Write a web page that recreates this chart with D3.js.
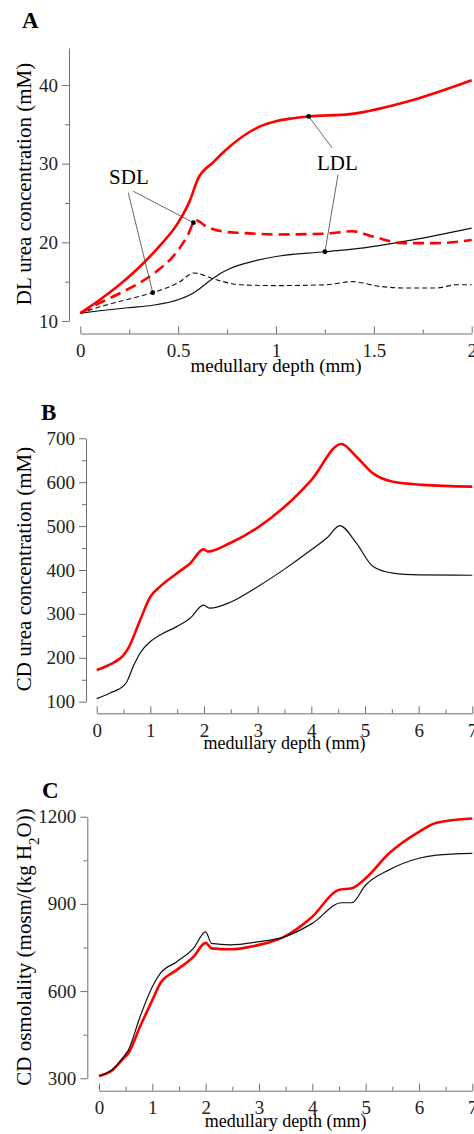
<!DOCTYPE html>
<html>
<head>
<meta charset="utf-8">
<script src="https://cdn.jsdelivr.net/npm/d3@7"></script>
<style>
  body { margin: 0; background: #fff; }
  svg { display: block; font-family: "Liberation Serif", "Times New Roman", serif; }
  .axis path, .axis line { stroke: #707070; stroke-width: 1; }
  .axis text { fill: #222; font-size: 19px; font-family: "Liberation Serif", "Times New Roman", serif; }
</style>
</head>
<body>
<svg width="474" height="1134"></svg>
<script>
// -------------------- DATA --------------------
// Panel A: DL urea concentration (mM) vs medullary depth (mm)
const aLdlRedDepth = [0, 0.1, 0.2, 0.3, 0.4, 0.5, 0.56, 0.6, 0.68, 0.765, 0.85, 0.934, 1.0, 1.08, 1.167, 1.378, 1.7, 2.0];
const aLdlRed      = [11, 12.7, 14.6, 16.8, 19.4, 22.5, 25.3, 28.0, 30.2, 32.2, 33.8, 34.9, 35.4, 35.75, 36.0, 36.3, 38.1, 40.6];
const aSdlRedDepth = [0, 0.1, 0.2, 0.3, 0.4, 0.47, 0.545, 0.59, 0.645, 0.75, 0.82, 1.0, 1.25, 1.39, 1.5, 1.65, 1.82, 2.0];
const aSdlRed      = [11, 12.3, 13.5, 14.8, 16.5, 18.1, 20.7, 22.8, 22.0, 21.3, 21.2, 21.0, 21.1, 21.4, 20.7, 19.9, 19.9, 20.3];
const aLdlBlkDepth = [0, 0.1, 0.25, 0.37, 0.51, 0.58, 0.645, 0.72, 0.8, 0.9, 1.0, 1.25, 1.45, 1.7, 2.0];
const aLdlBlk      = [11, 11.3, 11.7, 12.0, 12.8, 13.6, 14.8, 16.1, 17.0, 17.7, 18.2, 18.8, 19.3, 20.3, 21.8];
const aSdlBlkDepth = [0, 0.1, 0.25, 0.37, 0.51, 0.578, 0.7, 0.817, 1.0, 1.25, 1.39, 1.53, 1.65, 1.82, 1.92, 2.0];
const aSdlBlk      = [11, 11.8, 12.8, 13.6, 15.0, 16.1, 15.2, 14.6, 14.5, 14.6, 15.0, 14.4, 14.2, 14.2, 14.6, 14.6];
const aYTicks = [10, 20, 30, 40];
const aYMinor = [15, 25, 35];
const aXTicks = [0, 0.5, 1, 1.5, 2];
const aXMinor = [0.25, 0.75, 1.25, 1.75];

// annotation pointers: label anchor, line starts, target dots (data units)
const sdlLabel = { d: 0.147, v: 27.4, text: "SDL" };
const sdlFrom  = [{ d: 0.27, v: 26.5 }, { d: 0.245, v: 26.3 }];
const sdlDots  = [{ d: 0.578, v: 22.5 }, { d: 0.37, v: 13.6 }];
const ldlLabel = { d: 1.209, v: 29.2, text: "LDL" };
const ldlFrom  = [{ d: 1.287, v: 32.0 }, { d: 1.317, v: 28.6 }];
const ldlDots  = [{ d: 1.167, v: 36.0 }, { d: 1.25, v: 18.8 }];

// Panel B: CD urea concentration (mM)
const bBlkDepth = [0, 0.25, 0.5, 0.56, 0.68, 0.81, 1.0, 1.18, 1.49, 1.74, 1.99, 2.11, 2.5, 3.0, 3.5, 4.0, 4.3, 4.53, 4.84, 5.15, 5.52, 6.0, 7.0];
const bBlk      = [107, 120, 136, 145, 180, 211, 237, 252, 271, 290, 320, 313, 327, 362, 402, 446, 474, 501, 461, 408, 393, 389, 388];
const bRedDepth = [0, 0.25, 0.5, 0.59, 0.81, 1.0, 1.18, 1.49, 1.74, 1.99, 2.08, 2.48, 2.98, 3.5, 4.0, 4.56, 4.84, 5.15, 5.52, 6.08, 7.0];
const bRed      = [172, 185, 206, 222, 286, 339, 362, 392, 415, 447, 442, 461, 495, 544, 605, 687, 658, 620, 601, 594, 590];
const bYTicks = [100, 200, 300, 400, 500, 600, 700];
const bYMinor = [150, 250, 350, 450, 550, 650];

// Panel C: CD osmolality (mosm/(kg H2O))
const cBlkDepth = [0, 0.25, 0.46, 0.55, 0.77, 1.0, 1.15, 1.46, 1.77, 2.0, 2.11, 2.46, 3.0, 3.45, 4.0, 4.55, 4.74, 5.0, 5.44, 6.0, 6.33, 7.0];
const cBlk      = [308, 330, 374, 397, 512, 615, 661, 701, 747, 804, 764, 759, 770, 785, 833, 904, 904, 965, 1017, 1057, 1068, 1074];
const cRedDepth = [0, 0.25, 0.46, 0.55, 0.77, 1.0, 1.15, 1.46, 1.77, 2.0, 2.11, 2.46, 3.0, 3.45, 4.0, 4.49, 4.74, 5.0, 5.44, 6.0, 6.33, 7.0];
const cRed      = [308, 328, 369, 386, 478, 569, 627, 673, 718, 766, 747, 744, 759, 785, 856, 948, 954, 988, 1074, 1148, 1179, 1194];
const cYTicks = [300, 600, 900, 1200];
const cYMinor = [450, 750, 1050];

const bcXTicks = [0, 1, 2, 3, 4, 5, 6, 7];
const bcXMinor = [0.5, 1.5, 2.5, 3.5, 4.5, 5.5, 6.5];

// -------------------- HELPERS --------------------
const svg = d3.select("svg");
const zip = (xs, ys) => xs.map((d, i) => ({ d: d, v: ys[i] }));

function drawPanel(p) {
  const g = svg.append("g");

  // y axis (ticks pointing out to the left)
  g.append("g").attr("class", "axis")
    .attr("transform", `translate(${p.yAxisX},0)`)
    .call(d3.axisLeft(p.y).tickValues(p.yTicks).tickSize(7).tickSizeOuter(0).tickPadding(4).tickFormat(d => String(d)));
  g.append("g").attr("class", "axis")
    .attr("transform", `translate(${p.yAxisX},0)`)
    .call(d3.axisLeft(p.y).tickValues(p.yMinor).tickSize(4).tickFormat(""))
    .call(s => s.select(".domain").remove());

  // x axis (separate, ticks pointing up)
  g.append("g").attr("class", "axis")
    .attr("transform", `translate(0,${p.xAxisY})`)
    .call(d3.axisBottom(p.x).tickValues(p.xTicks).tickSize(-7).tickSizeOuter(0).tickPadding(10).tickFormat(d => String(d)));
  g.append("g").attr("class", "axis")
    .attr("transform", `translate(0,${p.xAxisY})`)
    .call(d3.axisBottom(p.x).tickValues(p.xMinor).tickSize(-4).tickFormat(""))
    .call(s => s.select(".domain").remove());

  // axis titles
  const xr = p.x.range();
  g.append("text")
    .attr("x", (xr[0] + xr[1]) / 2)
    .attr("y", p.xTitleY)
    .attr("text-anchor", "middle")
    .style("font-size", p.xTitleSize + "px")
    .text("medullary depth (mm)");

  const yt = g.append("text")
    .attr("transform", `translate(31,${p.yTitleY}) rotate(-90)`)
    .attr("text-anchor", "middle")
    .style("font-size", "21px");
  p.yTitle(yt);

  // panel letter
  g.append("text")
    .attr("x", p.letterX).attr("y", p.letterY)
    .style("font-size", "23px").style("font-weight", "bold")
    .text(p.letter);

  // series
  const line = d3.line().x(d => p.x(d.d)).y(d => p.y(d.v)).curve(d3.curveMonotoneX);
  p.series.forEach(s => {
    g.append("path")
      .datum(s.data)
      .attr("fill", "none")
      .attr("stroke", s.color)
      .attr("stroke-width", s.width)
      .attr("stroke-dasharray", s.dash || null)
      .attr("stroke-linejoin", "round")
      .attr("d", line);
  });
  return g;
}

// -------------------- PANEL A --------------------
const xA = d3.scaleLinear().domain([0, 2]).range([80.3, 471.7]);
const yA = d3.scaleLinear().domain([10, 44.7]).range([321, 48]);
const gA = drawPanel({
  x: xA, y: yA, yAxisX: 69, xAxisY: 333.5,
  yTicks: aYTicks, yMinor: aYMinor, xTicks: aXTicks, xMinor: aXMinor,
  xTitleY: 372, xTitleSize: 19, yTitleY: 184,
  yTitle: t => t.text("DL urea concentration (mM)"),
  letter: "A", letterX: 22, letterY: 28,
  series: [
    { data: zip(aSdlBlkDepth, aSdlBlk), color: "#111", width: 1.1, dash: "5,3" },
    { data: zip(aLdlBlkDepth, aLdlBlk), color: "#111", width: 1.2 },
    { data: zip(aSdlRedDepth, aSdlRed), color: "#ff0000", width: 2.6, dash: "11,6" },
    { data: zip(aLdlRedDepth, aLdlRed), color: "#ff0000", width: 2.6 }
  ]
});

// annotations
function annotate(g, label, from, dots) {
  dots.forEach((t, i) => {
    g.append("line")
      .attr("x1", xA(from[i].d)).attr("y1", yA(from[i].v))
      .attr("x2", xA(t.d)).attr("y2", yA(t.v))
      .attr("stroke", "#555").attr("stroke-width", 0.9);
  });
  g.selectAll(null).data(dots).enter().append("circle")
    .attr("cx", d => xA(d.d)).attr("cy", d => yA(d.v))
    .attr("r", 2.4).attr("fill", "#000");
  g.append("text")
    .attr("x", xA(label.d)).attr("y", yA(label.v))
    .style("font-size", "21px")
    .text(label.text);
}
annotate(gA, sdlLabel, sdlFrom, sdlDots);
annotate(gA, ldlLabel, ldlFrom, ldlDots);

// -------------------- PANEL B --------------------
drawPanel({
  x: d3.scaleLinear().domain([0, 7]).range([96.7, 472.3]),
  y: d3.scaleLinear().domain([100, 700]).range([701.7, 438.3]),
  yAxisX: 86, xAxisY: 713.3,
  yTicks: bYTicks, yMinor: bYMinor, xTicks: bcXTicks, xMinor: bcXMinor,
  xTitleY: 749, xTitleSize: 18, yTitleY: 569,
  yTitle: t => t.text("CD urea concentration (mM)"),
  letter: "B", letterX: 41, letterY: 420,
  series: [
    { data: zip(bBlkDepth, bBlk), color: "#111", width: 1.2 },
    { data: zip(bRedDepth, bRed), color: "#ff0000", width: 2.6 }
  ]
});

// -------------------- PANEL C --------------------
drawPanel({
  x: d3.scaleLinear().domain([0, 7]).range([99, 472.3]),
  y: d3.scaleLinear().domain([300, 1200]).range([1078.3, 816.7]),
  yAxisX: 87.3, xAxisY: 1090.7,
  yTicks: cYTicks, yMinor: cYMinor, xTicks: bcXTicks, xMinor: bcXMinor,
  xTitleY: 1127, xTitleSize: 18, yTitleY: 947,
  yTitle: t => {
    t.append("tspan").text("CD osmolality (mosm/(kg H");
    t.append("tspan").attr("baseline-shift", "sub").style("font-size", "15px").text("2");
    t.append("tspan").text("O))");
  },
  letter: "C", letterX: 42, letterY: 798,
  series: [
    { data: zip(cRedDepth, cRed), color: "#ff0000", width: 2.6 },
    { data: zip(cBlkDepth, cBlk), color: "#111", width: 1.2 }
  ]
});
</script>
</body>
</html>
